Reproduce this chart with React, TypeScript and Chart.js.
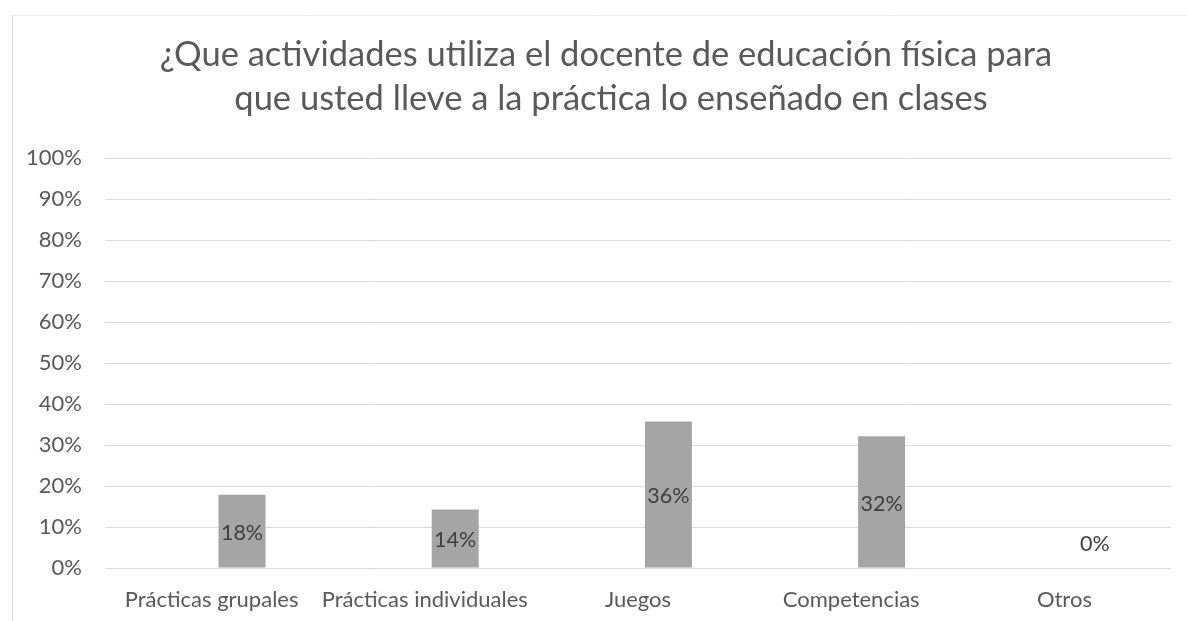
import React, { useEffect, useRef } from "react";
import { Chart, registerables } from "chart.js";

Chart.register(...registerables);

const titleLines = [
  "¿Que actividades utiliza el docente de educación física para",
  "que usted lleve a la práctica lo enseñado en clases",
];
const categories = [
  "Prácticas grupales",
  "Prácticas individuales",
  "Juegos",
  "Competencias",
  "Otros",
];
const placeholderSeries: (number | null)[] = [null, null, null, null, null];
const percentValues = [17.86, 14.29, 35.71, 32.14, 0];
const yTicks = [0, 10, 20, 30, 40, 50, 60, 70, 80, 90, 100];

const FONT = "Lato, 'Open Sans', sans-serif";
const TEXT = "#595959";
const LABEL = "#404040";
const GRID = "#d9d9d9";
const BAR = "#a5a5a5";

export default function App() {
  const ref = useRef<HTMLCanvasElement | null>(null);

  useEffect(() => {
    document.body.style.margin = "0";
    const canvas = ref.current;
    if (!canvas) return;

    const framePlugin = {
      id: "frame",
      beforeDraw(chart: any) {
        const { ctx, width, height } = chart;
        ctx.save();
        ctx.fillStyle = "#ffffff";
        ctx.fillRect(0, 0, width, height);
        ctx.strokeStyle = "#efefef";
        ctx.lineWidth = 1;
        ctx.beginPath();
        ctx.moveTo(12, 15.5);
        ctx.lineTo(width, 15.5);
        ctx.stroke();
        ctx.strokeStyle = GRID;
        ctx.beginPath();
        ctx.moveTo(12.5, 15);
        ctx.lineTo(12.5, height);
        ctx.stroke();
        ctx.restore();
      },
    };

    const titlePlugin = {
      id: "twoLineTitle",
      afterDraw(chart: any) {
        const { ctx } = chart;
        ctx.save();
        ctx.fillStyle = TEXT;
        ctx.font = `34.5px ${FONT}`;
        ctx.textAlign = "center";
        ctx.textBaseline = "alphabetic";
        ctx.fillText(titleLines[0], 606, 66);
        ctx.fillText(titleLines[1], 611, 110);
        ctx.restore();
      },
    };

    const labelPlugin = {
      id: "barLabels",
      afterDatasetsDraw(chart: any) {
        const { ctx } = chart;
        const meta = chart.getDatasetMeta(1);
        ctx.save();
        ctx.fillStyle = LABEL;
        ctx.font = `21.5px ${FONT}`;
        ctx.textAlign = "center";
        ctx.textBaseline = "middle";
        meta.data.forEach((el: any, i: number) => {
          const v = percentValues[i];
          const h = Math.abs(el.base - el.y);
          const y = h < 30 ? el.base - 24 : (el.y + el.base) / 2 + 2;
          ctx.fillText(`${Math.round(v)}%`, el.x, y);
        });
        ctx.restore();
      },
    };

    const chart = new Chart(canvas, {
      type: "bar",
      data: {
        labels: categories,
        datasets: [
          {
            label: "",
            data: placeholderSeries,
            backgroundColor: BAR,
          },
          {
            label: "Porcentaje",
            data: percentValues,
            backgroundColor: BAR,
            categoryPercentage: 0.5704,
            barPercentage: 0.773,
          },
        ],
      },
      options: {
        responsive: false,
        animation: false,
        events: [],
        layout: { padding: { left: 0, right: 16, top: 158, bottom: 0 } },
        plugins: {
          legend: { display: false },
          title: { display: false },
          tooltip: { enabled: false },
        },
        datasets: {
          bar: { categoryPercentage: 0.5704, barPercentage: 0.773 },
        },
        scales: {
          x: {
            grid: { display: false, drawTicks: false },
            border: { display: false },
            ticks: {
              color: TEXT,
              font: { family: FONT, size: 22 },
              padding: 19,
              maxRotation: 0,
              autoSkip: false,
            },
            afterFit(scale: any) {
              scale.height = 53;
            },
          },
          y: {
            min: 0,
            max: 100,
            afterBuildTicks(scale: any) {
              scale.ticks = yTicks.map((v) => ({ value: v }));
            },
            grid: { color: GRID, lineWidth: 1, drawTicks: false },
            border: { display: false },
            ticks: {
              color: TEXT,
              font: { family: FONT, size: 22 },
              padding: 23,
              callback: (v: any) => `${v}%`,
            },
            afterFit(scale: any) {
              scale.width = 105;
            },
          },
        },
      },
      plugins: [framePlugin, titlePlugin, labelPlugin],
    });

    return () => chart.destroy();
  }, []);

  return (
    <div style={{ position: "absolute", left: 0, top: 0, width: 1187, height: 621, background: "#fff" }}>
      <canvas ref={ref} width={1187} height={621} style={{ display: "block" }} />
    </div>
  );
}
